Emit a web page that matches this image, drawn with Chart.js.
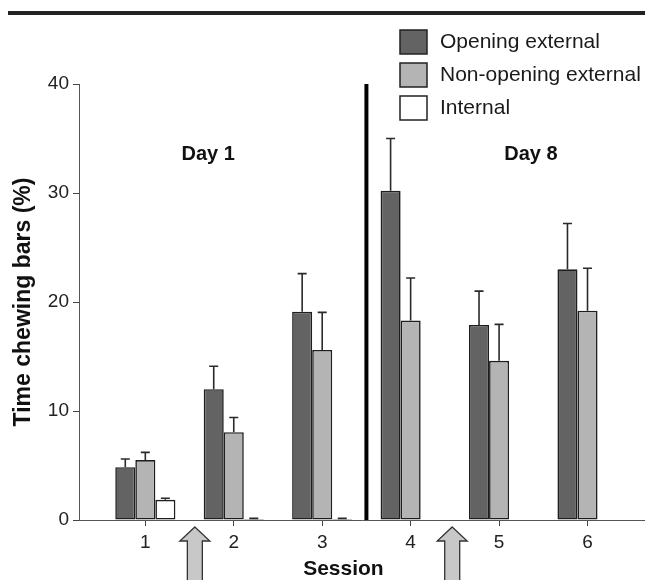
<!DOCTYPE html>
<html>
<head>
<meta charset="utf-8">
<script src="https://cdn.jsdelivr.net/npm/chart.js@4.4.0/dist/chart.umd.min.js"></script>
<style>
  html,body{margin:0;padding:0;background:#fff}
  #wrap{width:645px;height:580px;position:relative}
</style>
</head>
<body>
<div id="wrap"><canvas id="chart" width="645" height="580"></canvas></div>
<script>
// valeurs (moyenne + erreur standard, vers le haut seulement)
const SESSIONS = ["1","2","3","4","5","6"];
const SERIES = ["Opening external","Non-opening external","Internal"];
const OPENING = [4.85, 12.0, 19.1, 30.2, 17.9, 23.0];
const OPENING_SE = [0.75, 2.1, 3.5, 4.8, 3.1, 4.2];
const NON_OPENING = [5.5, 8.05, 15.6, 18.3, 14.6, 19.2];
const NON_OPENING_SE = [0.7, 1.35, 3.45, 3.9, 3.35, 3.9];
const INTERNAL = [1.85, 0.1, 0.1, 0.05, 0.05, 0.05];
const INTERNAL_SE = [0.15, 0.05, 0.05, 0, 0, 0];
const Y_TICKS = [0, 10, 20, 30, 40];
const DAYS = ["Day 1", "Day 8"];
const DAY_AT = [1.71, 5.36];      // position en sessions
const DAY_Y = 33.5;               // position en %
const DIVIDER_AT = 3.5;           // trait vertical entre jour 1 et jour 8
const ARROWS_AT = [1.56, 4.47];   // flèches sous l'axe
const COLORS = ["#636363", "#b4b4b4", "#ffffff"];
const FONT = "'Liberation Sans', Arial, Helvetica, sans-serif";

const decor = {
  id: "decor",
  afterDatasetsDraw(chart){
    const ctx = chart.ctx, x = chart.scales.x, y = chart.scales.y;
    // barres d'erreur
    chart.data.datasets.forEach((ds, i) => {
      chart.getDatasetMeta(i).data.forEach((bar, j) => {
        const se = ds.se[j]; if (!se) return;
        const top = y.getPixelForValue(ds.data[j] + se);
        ctx.save(); ctx.strokeStyle = "#2a2a2a"; ctx.lineWidth = 1.6;
        ctx.beginPath();
        ctx.moveTo(bar.x, bar.y); ctx.lineTo(bar.x, top);
        ctx.moveTo(bar.x - 4.5, top); ctx.lineTo(bar.x + 4.5, top);
        ctx.stroke(); ctx.restore();
      });
    });
    ctx.save();
    // séparateur jour 1 / jour 8
    const xd = x.getPixelForValue(DIVIDER_AT);
    ctx.strokeStyle = "#000"; ctx.lineWidth = 4;
    ctx.beginPath(); ctx.moveTo(xd, y.getPixelForValue(40)); ctx.lineTo(xd, y.getPixelForValue(0)); ctx.stroke();
    // étiquettes des jours
    ctx.fillStyle = "#111"; ctx.font = "bold 20px " + FONT;
    ctx.textAlign = "center"; ctx.textBaseline = "middle";
    DAYS.forEach((t, i) => ctx.fillText(t, x.getPixelForValue(DAY_AT[i]), y.getPixelForValue(DAY_Y)));
    // flèches
    const base = y.getPixelForValue(0);
    ARROWS_AT.forEach(v => {
      const cx = x.getPixelForValue(v), tip = base + 7;
      ctx.beginPath();
      ctx.moveTo(cx, tip);
      ctx.lineTo(cx + 15, tip + 14); ctx.lineTo(cx + 7.5, tip + 14);
      ctx.lineTo(cx + 7.5, 582); ctx.lineTo(cx - 7.5, 582);
      ctx.lineTo(cx - 7.5, tip + 14); ctx.lineTo(cx - 15, tip + 14);
      ctx.closePath();
      ctx.fillStyle = "#c8c8c8"; ctx.fill();
      ctx.strokeStyle = "#333"; ctx.lineWidth = 1.3; ctx.stroke();
    });
    // titre de l'axe x
    ctx.fillStyle = "#111"; ctx.font = "bold 21px " + FONT;
    ctx.fillText("Session", x.getPixelForValue(3.24), 569);
    // trait du haut
    ctx.strokeStyle = "#222"; ctx.lineWidth = 4;
    ctx.beginPath(); ctx.moveTo(8, 13); ctx.lineTo(645, 13); ctx.stroke();
    // légende
    ctx.textAlign = "left"; ctx.font = "21px " + FONT;
    chart.data.datasets.forEach((ds, i) => {
      const top = 30 + i * 33;
      ctx.fillStyle = ds.backgroundColor; ctx.fillRect(400, top, 27, 24);
      ctx.strokeStyle = "#222"; ctx.lineWidth = 1.5; ctx.strokeRect(400, top, 27, 24);
      ctx.fillStyle = "#1a1a1a"; ctx.fillText(ds.label, 440, top + 12);
    });
    ctx.restore();
  }
};

new Chart(document.getElementById("chart"), {
  type: "bar",
  data: {
    labels: SESSIONS,
    datasets: [
      {label: SERIES[0], data: OPENING, se: OPENING_SE, backgroundColor: COLORS[0]},
      {label: SERIES[1], data: NON_OPENING, se: NON_OPENING_SE, backgroundColor: COLORS[1]},
      {label: SERIES[2], data: INTERNAL, se: INTERNAL_SE, backgroundColor: COLORS[2]},
    ].map(d => ({...d, borderColor: "#1e1e1e", borderWidth: 1.6, borderSkipped: false,
                  categoryPercentage: 0.68, barPercentage: 1.0})),
  },
  options: {
    responsive: false, animation: false, devicePixelRatio: 1,
    layout: {padding: {top: 84, left: 0, right: 0, bottom: 0}},
    plugins: {legend: {display: false}, tooltip: {enabled: false}},
    scales: {
      x: {
        type: "linear", min: 0.25, max: 6.65, offset: false,
        afterFit: s => { s.height = 60; },
        grid: {display: true, drawOnChartArea: false, tickLength: 6, color: "#444", offset: false},
        border: {display: true, color: "#555", width: 1},
        ticks: {stepSize: 1, includeBounds: false, padding: 5, color: "#222",
                font: {family: FONT, size: 19}, callback: v => SESSIONS[v - 1]},
      },
      y: {
        min: Y_TICKS[0], max: Y_TICKS[Y_TICKS.length - 1],
        afterFit: s => { s.width = 79; },
        afterBuildTicks: s => { s.ticks = Y_TICKS.map(v => ({value: v})); },
        grid: {display: true, drawOnChartArea: false, tickLength: 6, color: "#444"},
        border: {display: true, color: "#555", width: 1},
        ticks: {padding: 4, color: "#222", font: {family: FONT, size: 19}},
        title: {display: true, text: "Time chewing bars (%)", color: "#111",
                font: {family: FONT, size: 23, weight: "bold"}, padding: {top: 10, bottom: 0}},
      },
    },
  },
  plugins: [decor],
});
</script>
</body>
</html>
